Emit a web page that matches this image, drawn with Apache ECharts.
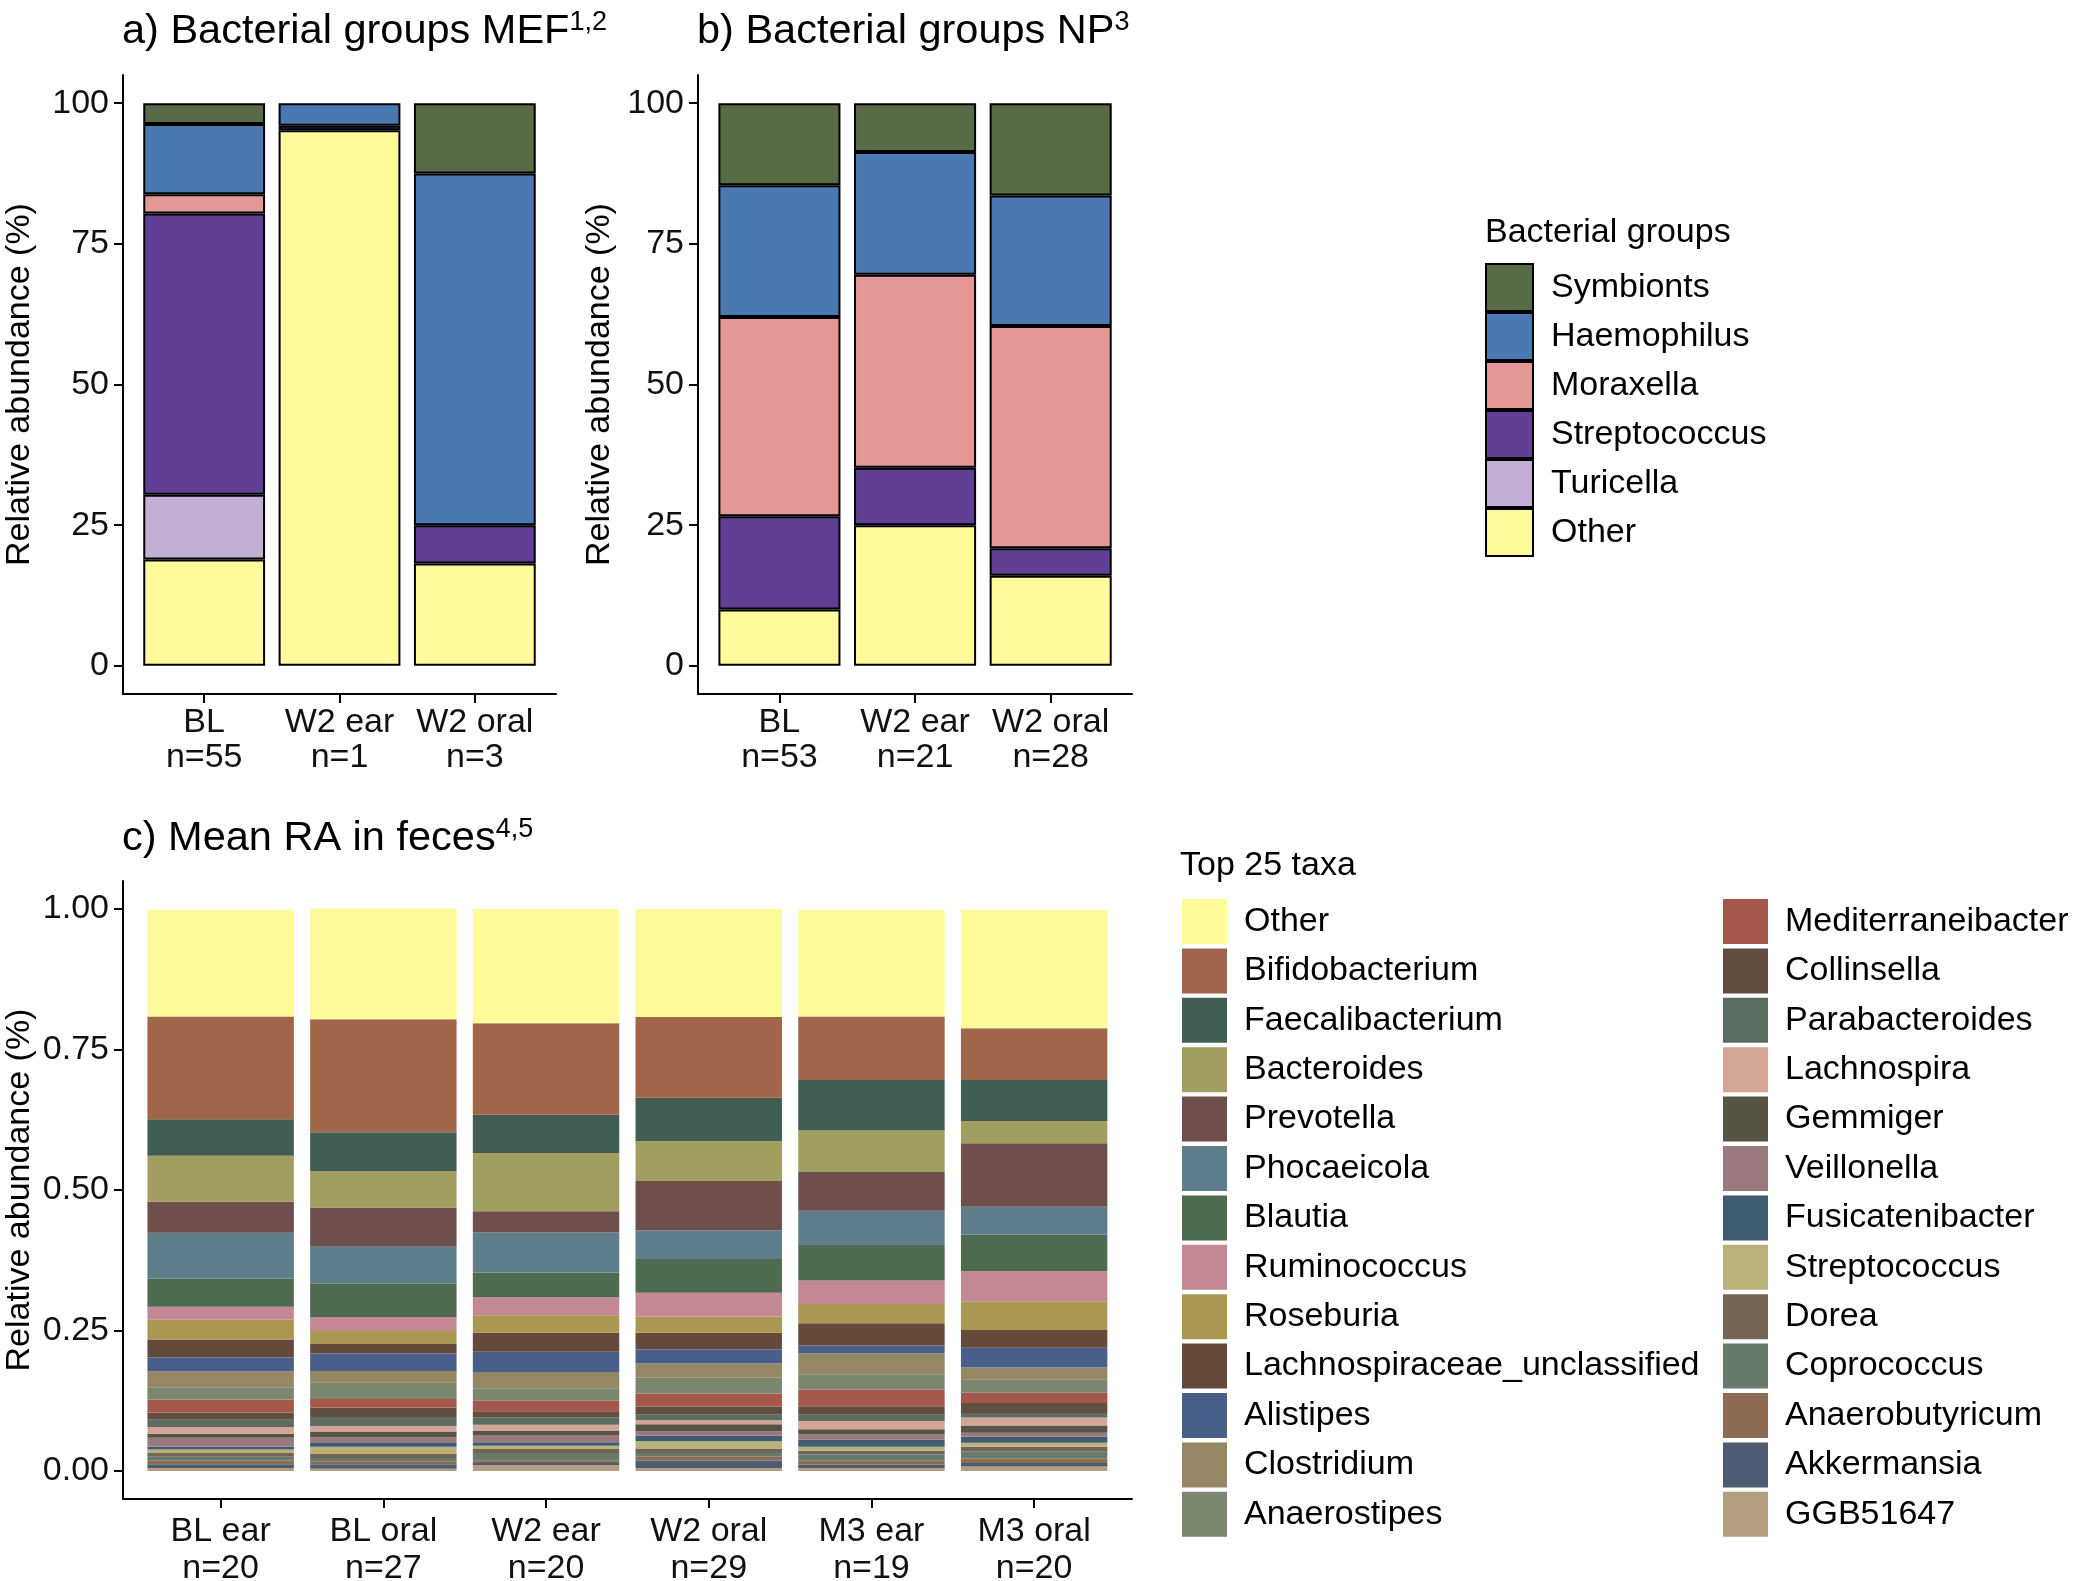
<!DOCTYPE html>
<html>
<head>
<meta charset="utf-8">
<script src="https://cdn.jsdelivr.net/npm/echarts@6/dist/echarts.min.js"></script>
<style>
  html, body { margin: 0; padding: 0; background: #fff; }
  #main { width: 2075px; height: 1581px; }
</style>
</head>
<body>
<div id="main"></div>
<script>
// panel a / b : bacterial groups, stacked from bottom (Other) to top (Symbionts)
var groups = ['Other', 'Turicella', 'Streptococcus', 'Moraxella', 'Haemophilus', 'Symbionts'];
var groupColors = ['#FFFB9B', '#C3AFD4', '#613F94', '#E49797', '#4A78B0', '#566B46'];
var legendGroups = ['Symbionts', 'Haemophilus', 'Moraxella', 'Streptococcus', 'Turicella', 'Other'];

var catsMEF = ['BL\nn=55', 'W2 ear\nn=1', 'W2 oral\nn=3'];
var catsNP = ['BL\nn=53', 'W2 ear\nn=21', 'W2 oral\nn=28'];

// values in %, one array per category, in the order of `groups`
var mefBL = [18.9, 11.5, 50.0, 3.4, 12.5, 3.7];
var mefW2ear = [95.2, 0, 0.8, 0, 4.0, 0];
var mefW2oral = [18.2, 0, 6.8, 0, 62.5, 12.5];

var npBL = [10.0, 0, 16.6, 35.4, 23.4, 14.6];
var npW2ear = [25.0, 0, 10.2, 34.3, 21.8, 8.7];
var npW2oral = [16.0, 0, 4.9, 39.5, 23.2, 16.4];

// panel c : top 25 taxa (legend order, Other on top of the stack)
var taxa = ['Other', 'Bifidobacterium', 'Faecalibacterium', 'Bacteroides', 'Prevotella',
  'Phocaeicola', 'Blautia', 'Ruminococcus', 'Roseburia', 'Lachnospiraceae_unclassified',
  'Alistipes', 'Clostridium', 'Anaerostipes', 'Mediterraneibacter', 'Collinsella',
  'Parabacteroides', 'Lachnospira', 'Gemmiger', 'Veillonella', 'Fusicatenibacter',
  'Streptococcus', 'Dorea', 'Coprococcus', 'Anaerobutyricum', 'Akkermansia', 'GGB51647'];
var taxaColors = ['#FFFA9A', '#A16549', '#425E52', '#A29E60', '#6E4F4C',
  '#5F7E8B', '#4E6A4F', '#C38894', '#AA9852', '#634A3B',
  '#475F89', '#958664', '#7A876E', '#A6574C', '#614E40',
  '#5A6D60', '#D3A597', '#575345', '#9A787E', '#3F5C71',
  '#BAB07A', '#726554', '#687B6A', '#8E6B52', '#4F5A73', '#B39F80'];

var catsFeces = ['BL ear\nn=20', 'BL oral\nn=27', 'W2 ear\nn=20', 'W2 oral\nn=29', 'M3 ear\nn=19', 'M3 oral\nn=20'];

// mean relative abundance per category, in the order of `taxa`
var blEar = [0.190, 0.183, 0.065, 0.082, 0.055, 0.082, 0.050, 0.023, 0.035, 0.032, 0.025, 0.029, 0.021,
  0.023, 0.013, 0.013, 0.012, 0.007, 0.016, 0.005, 0.006, 0.007, 0.007, 0.006, 0.007, 0.005];
var blOral = [0.197, 0.201, 0.069, 0.065, 0.070, 0.066, 0.059, 0.025, 0.023, 0.017, 0.031, 0.021, 0.029,
  0.015, 0.017, 0.016, 0.010, 0.010, 0.009, 0.008, 0.013, 0.007, 0.006, 0.005, 0.008, 0.004];
var w2Ear = [0.203, 0.163, 0.068, 0.104, 0.037, 0.072, 0.044, 0.032, 0.031, 0.034, 0.036, 0.029, 0.022,
  0.019, 0.011, 0.013, 0.011, 0.007, 0.013, 0.006, 0.006, 0.007, 0.013, 0.005, 0.004, 0.010];
var w2Oral = [0.192, 0.144, 0.077, 0.071, 0.088, 0.051, 0.060, 0.042, 0.029, 0.030, 0.025, 0.025, 0.028,
  0.024, 0.013, 0.011, 0.007, 0.013, 0.007, 0.010, 0.013, 0.008, 0.007, 0.007, 0.013, 0.005];
var m3Ear = [0.190, 0.113, 0.090, 0.074, 0.069, 0.061, 0.063, 0.042, 0.034, 0.040, 0.014, 0.037, 0.027,
  0.030, 0.015, 0.011, 0.015, 0.009, 0.009, 0.013, 0.007, 0.007, 0.011, 0.007, 0.006, 0.005];
var m3Oral = [0.211, 0.092, 0.073, 0.040, 0.113, 0.049, 0.065, 0.054, 0.051, 0.032, 0.035, 0.021, 0.024,
  0.018, 0.018, 0.008, 0.014, 0.013, 0.007, 0.011, 0.007, 0.008, 0.013, 0.008, 0.006, 0.008];

var FONT = 'Liberation Sans, Arial, sans-serif';
var INK = '#111';
var axisLine = { show: true, onZero: false, lineStyle: { color: '#000', width: 2 } };
var tickLine = { color: '#000', width: 2 };

// frame grid: draws the two axis lines and the y ticks (ggplot style 5% padding)
function frameAxes(gi, min, max, ticks, fmt, nameGap){
  return {
    x: { gridIndex: gi, type: 'value', min: 0, max: 1, axisLine: axisLine,
      axisTick: { show: false }, axisLabel: { show: false }, splitLine: { show: false } },
    y: { gridIndex: gi, type: 'value', min: min, max: max,
      axisLine: axisLine,
      axisTick: { show: true, length: 9, lineStyle: tickLine, customValues: ticks },
      axisLabel: { customValues: ticks, formatter: fmt, fontSize: 34, color: INK, margin: 14, fontFamily: FONT },
      splitLine: { show: false },
      name: 'Relative abundance (%)', nameLocation: 'middle', nameGap: nameGap,
      nameTextStyle: { fontSize: 34, color: '#000', fontFamily: FONT } }
  };
}

// bar grid: category axis with ticks under bar centres, hidden value axis
function barAxes(gi, cats, min, max, margin, lh){
  return {
    x: { gridIndex: gi, type: 'category', data: cats,
      axisLine: { show: false, onZero: false },
      axisTick: { show: true, alignWithLabel: true, length: 9, lineStyle: tickLine },
      axisLabel: { interval: 0, fontSize: 34, lineHeight: lh, color: INK, margin: margin, fontFamily: FONT } },
    y: { gridIndex: gi, type: 'value', min: min, max: max, show: false }
  };
}

var fa = frameAxes(0, -5, 105, [0, 25, 50, 75, 100], null, 86);
var ba = barAxes(1, catsMEF, -5, 105, 11, 35);
var fb = frameAxes(2, -5, 105, [0, 25, 50, 75, 100], null, 81);
var bb = barAxes(3, catsNP, -5, 105, 11, 35);
var fc = frameAxes(4, -0.05, 1.05, [0, 0.25, 0.5, 0.75, 1], function(v){ return v.toFixed(2); }, 86);
var bc = barAxes(5, catsFeces, -0.05, 1.05, 14, 37);

function groupSeries(cols, xi, stack){
  var res = [];
  for (var g = 0; g < groups.length; g++) {
    var d = [];
    for (var c = 0; c < cols.length; c++) d.push(cols[c][g] === 0 ? '-' : cols[c][g]);
    res.push({
      name: groups[g], type: 'bar', stack: stack,
      xAxisIndex: xi, yAxisIndex: xi, barWidth: '90%',
      itemStyle: { color: groupColors[g], borderColor: '#000', borderWidth: 2 },
      data: d
    });
  }
  return res;
}

function taxaSeries(){
  var res = [];
  var cols = [blEar, blOral, w2Ear, w2Oral, m3Ear, m3Oral];
  for (var t = taxa.length - 1; t >= 0; t--) {   // bottom of stack first
    var d = [];
    for (var c = 0; c < cols.length; c++) d.push(cols[c][t]);
    res.push({
      name: 'c_' + taxa[t], type: 'bar', stack: 'c',
      xAxisIndex: 5, yAxisIndex: 5, barWidth: '90%',
      itemStyle: { color: taxaColors[t] },
      data: d
    });
  }
  return res;
}

function taxaNames(from, to){
  var res = [];
  for (var i = from; i < to; i++) res.push('c_' + taxa[i]);
  return res;
}

var titleRich = {
  t: { fontSize: 41.5, fontWeight: 'normal', fontFamily: FONT, color: '#000', lineHeight: 46 },
  s: { fontSize: 27, fontWeight: 'normal', fontFamily: FONT, color: '#000', verticalAlign: 'top', lineHeight: 46 }
};
var plainTitle = { fontSize: 34, fontWeight: 'normal', color: '#000', fontFamily: FONT };

var chart = echarts.init(document.getElementById('main'));
chart.setOption({
  animation: false,
  backgroundColor: '#fff',
  textStyle: { fontFamily: FONT },
  title: [
    { text: '{t|a) Bacterial groups MEF}{s|1,2}', left: 122, top: 9, padding: 0, textStyle: { fontWeight: 'normal', rich: titleRich } },
    { text: '{t|b) Bacterial groups NP}{s|3}', left: 697, top: 9, padding: 0, textStyle: { fontWeight: 'normal', rich: titleRich } },
    { text: '{t|c) Mean RA in feces}{s|4,5}', left: 122, top: 816, padding: 0, textStyle: { fontWeight: 'normal', rich: titleRich } },
    { text: 'Bacterial groups', left: 1485, top: 216, padding: 0, textStyle: plainTitle },
    { text: 'Top 25 taxa', left: 1180, top: 849, padding: 0, textStyle: plainTitle }
  ],
  grid: [
    { left: 123, top: 75, width: 433, height: 619, outerBoundsMode: 'none' },
    { left: 136.5, top: 75, width: 406, height: 619, outerBoundsMode: 'none' },
    { left: 698, top: 75, width: 434, height: 619, outerBoundsMode: 'none' },
    { left: 711.6, top: 75, width: 406.9, height: 619, outerBoundsMode: 'none' },
    { left: 123, top: 881, width: 1009, height: 618, outerBoundsMode: 'none' },
    { left: 139.3, top: 881, width: 976.2, height: 618, outerBoundsMode: 'none' }
  ],
  xAxis: [fa.x, ba.x, fb.x, bb.x, fc.x, bc.x],
  yAxis: [fa.y, ba.y, fb.y, bb.y, fc.y, bc.y],
  legend: [
    { data: legendGroups, orient: 'vertical', left: 1485, top: 263, padding: 0,
      itemWidth: 47, itemHeight: 47, itemGap: 0, icon: 'rect', selectedMode: false,
      textStyle: { fontSize: 34, lineHeight: 36, color: '#000', fontFamily: FONT, padding: [0, 0, 0, 13] } },
    { data: taxaNames(0, 13), orient: 'vertical', left: 1182, top: 899, padding: 0,
      itemWidth: 45, itemHeight: 45, itemGap: 4.4, icon: 'rect', selectedMode: false,
      formatter: function(n){ return n.slice(2); },
      textStyle: { fontSize: 34, lineHeight: 36, color: '#000', fontFamily: FONT, padding: [0, 0, 0, 12] } },
    { data: taxaNames(13, 26), orient: 'vertical', left: 1723, top: 899, padding: 0,
      itemWidth: 45, itemHeight: 45, itemGap: 4.4, icon: 'rect', selectedMode: false,
      formatter: function(n){ return n.slice(2); },
      textStyle: { fontSize: 34, lineHeight: 36, color: '#000', fontFamily: FONT, padding: [0, 0, 0, 12] } }
  ],
  series: groupSeries([mefBL, mefW2ear, mefW2oral], 1, 'mef')
    .concat(groupSeries([npBL, npW2ear, npW2oral], 3, 'np'))
    .concat(taxaSeries())
});
</script>
</body>
</html>
